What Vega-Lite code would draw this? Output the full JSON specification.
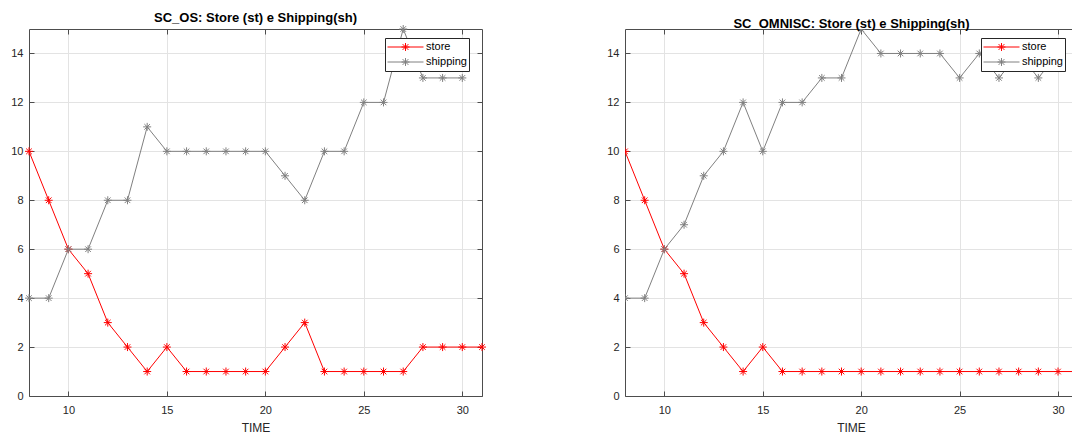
{
  "$schema": "https://vega.github.io/schema/vega-lite/v6.json",
  "background": "white",
  "padding": {"left": 10, "top": 12, "right": 0, "bottom": 0},
  "datasets": {
    "d": [
      {"panel": "OS", "time": 8, "series": "store", "value": 10},
      {"panel": "OS", "time": 9, "series": "store", "value": 8},
      {"panel": "OS", "time": 10, "series": "store", "value": 6},
      {"panel": "OS", "time": 11, "series": "store", "value": 5},
      {"panel": "OS", "time": 12, "series": "store", "value": 3},
      {"panel": "OS", "time": 13, "series": "store", "value": 2},
      {"panel": "OS", "time": 14, "series": "store", "value": 1},
      {"panel": "OS", "time": 15, "series": "store", "value": 2},
      {"panel": "OS", "time": 16, "series": "store", "value": 1},
      {"panel": "OS", "time": 17, "series": "store", "value": 1},
      {"panel": "OS", "time": 18, "series": "store", "value": 1},
      {"panel": "OS", "time": 19, "series": "store", "value": 1},
      {"panel": "OS", "time": 20, "series": "store", "value": 1},
      {"panel": "OS", "time": 21, "series": "store", "value": 2},
      {"panel": "OS", "time": 22, "series": "store", "value": 3},
      {"panel": "OS", "time": 23, "series": "store", "value": 1},
      {"panel": "OS", "time": 24, "series": "store", "value": 1},
      {"panel": "OS", "time": 25, "series": "store", "value": 1},
      {"panel": "OS", "time": 26, "series": "store", "value": 1},
      {"panel": "OS", "time": 27, "series": "store", "value": 1},
      {"panel": "OS", "time": 28, "series": "store", "value": 2},
      {"panel": "OS", "time": 29, "series": "store", "value": 2},
      {"panel": "OS", "time": 30, "series": "store", "value": 2},
      {"panel": "OS", "time": 31, "series": "store", "value": 2},
      {"panel": "OS", "time": 8, "series": "shipping", "value": 4},
      {"panel": "OS", "time": 9, "series": "shipping", "value": 4},
      {"panel": "OS", "time": 10, "series": "shipping", "value": 6},
      {"panel": "OS", "time": 11, "series": "shipping", "value": 6},
      {"panel": "OS", "time": 12, "series": "shipping", "value": 8},
      {"panel": "OS", "time": 13, "series": "shipping", "value": 8},
      {"panel": "OS", "time": 14, "series": "shipping", "value": 11},
      {"panel": "OS", "time": 15, "series": "shipping", "value": 10},
      {"panel": "OS", "time": 16, "series": "shipping", "value": 10},
      {"panel": "OS", "time": 17, "series": "shipping", "value": 10},
      {"panel": "OS", "time": 18, "series": "shipping", "value": 10},
      {"panel": "OS", "time": 19, "series": "shipping", "value": 10},
      {"panel": "OS", "time": 20, "series": "shipping", "value": 10},
      {"panel": "OS", "time": 21, "series": "shipping", "value": 9},
      {"panel": "OS", "time": 22, "series": "shipping", "value": 8},
      {"panel": "OS", "time": 23, "series": "shipping", "value": 10},
      {"panel": "OS", "time": 24, "series": "shipping", "value": 10},
      {"panel": "OS", "time": 25, "series": "shipping", "value": 12},
      {"panel": "OS", "time": 26, "series": "shipping", "value": 12},
      {"panel": "OS", "time": 27, "series": "shipping", "value": 15},
      {"panel": "OS", "time": 28, "series": "shipping", "value": 13},
      {"panel": "OS", "time": 29, "series": "shipping", "value": 13},
      {"panel": "OS", "time": 30, "series": "shipping", "value": 13},
      {"panel": "OMNISC", "time": 8, "series": "store", "value": 10},
      {"panel": "OMNISC", "time": 9, "series": "store", "value": 8},
      {"panel": "OMNISC", "time": 10, "series": "store", "value": 6},
      {"panel": "OMNISC", "time": 11, "series": "store", "value": 5},
      {"panel": "OMNISC", "time": 12, "series": "store", "value": 3},
      {"panel": "OMNISC", "time": 13, "series": "store", "value": 2},
      {"panel": "OMNISC", "time": 14, "series": "store", "value": 1},
      {"panel": "OMNISC", "time": 15, "series": "store", "value": 2},
      {"panel": "OMNISC", "time": 16, "series": "store", "value": 1},
      {"panel": "OMNISC", "time": 17, "series": "store", "value": 1},
      {"panel": "OMNISC", "time": 18, "series": "store", "value": 1},
      {"panel": "OMNISC", "time": 19, "series": "store", "value": 1},
      {"panel": "OMNISC", "time": 20, "series": "store", "value": 1},
      {"panel": "OMNISC", "time": 21, "series": "store", "value": 1},
      {"panel": "OMNISC", "time": 22, "series": "store", "value": 1},
      {"panel": "OMNISC", "time": 23, "series": "store", "value": 1},
      {"panel": "OMNISC", "time": 24, "series": "store", "value": 1},
      {"panel": "OMNISC", "time": 25, "series": "store", "value": 1},
      {"panel": "OMNISC", "time": 26, "series": "store", "value": 1},
      {"panel": "OMNISC", "time": 27, "series": "store", "value": 1},
      {"panel": "OMNISC", "time": 28, "series": "store", "value": 1},
      {"panel": "OMNISC", "time": 29, "series": "store", "value": 1},
      {"panel": "OMNISC", "time": 30, "series": "store", "value": 1},
      {"panel": "OMNISC", "time": 31, "series": "store", "value": 1},
      {"panel": "OMNISC", "time": 8, "series": "shipping", "value": 4},
      {"panel": "OMNISC", "time": 9, "series": "shipping", "value": 4},
      {"panel": "OMNISC", "time": 10, "series": "shipping", "value": 6},
      {"panel": "OMNISC", "time": 11, "series": "shipping", "value": 7},
      {"panel": "OMNISC", "time": 12, "series": "shipping", "value": 9},
      {"panel": "OMNISC", "time": 13, "series": "shipping", "value": 10},
      {"panel": "OMNISC", "time": 14, "series": "shipping", "value": 12},
      {"panel": "OMNISC", "time": 15, "series": "shipping", "value": 10},
      {"panel": "OMNISC", "time": 16, "series": "shipping", "value": 12},
      {"panel": "OMNISC", "time": 17, "series": "shipping", "value": 12},
      {"panel": "OMNISC", "time": 18, "series": "shipping", "value": 13},
      {"panel": "OMNISC", "time": 19, "series": "shipping", "value": 13},
      {"panel": "OMNISC", "time": 20, "series": "shipping", "value": 15},
      {"panel": "OMNISC", "time": 21, "series": "shipping", "value": 14},
      {"panel": "OMNISC", "time": 22, "series": "shipping", "value": 14},
      {"panel": "OMNISC", "time": 23, "series": "shipping", "value": 14},
      {"panel": "OMNISC", "time": 24, "series": "shipping", "value": 14},
      {"panel": "OMNISC", "time": 25, "series": "shipping", "value": 13},
      {"panel": "OMNISC", "time": 26, "series": "shipping", "value": 14},
      {"panel": "OMNISC", "time": 27, "series": "shipping", "value": 13},
      {"panel": "OMNISC", "time": 28, "series": "shipping", "value": 14},
      {"panel": "OMNISC", "time": 29, "series": "shipping", "value": 13},
      {"panel": "OMNISC", "time": 30, "series": "shipping", "value": 14}
    ]
  },
  "data": {"name": "d"},
  "spacing": 118,
  "resolve": {"scale": {"color": "independent"}, "legend": {"color": "independent"}},
  "hconcat": [
    {
      "width": 453,
      "height": 367,
      "title": {"text": "SC_OS: Store (st) e Shipping(sh)"},
      "transform": [{"filter": "datum.panel == 'OS'"}],
      "layer": [
        {
          "layer": [
            {
              "mark": {"type": "line", "strokeWidth": 1},
              "encoding": {
                "x": {"field": "time", "type": "quantitative", "title": "TIME", "scale": {"domain": [8, 31], "nice": false, "zero": false}, "axis": {"values": [10, 15, 20, 25, 30]}},
                "y": {"field": "value", "type": "quantitative", "title": null, "scale": {"domain": [0, 15], "nice": false}, "axis": {"values": [0, 2, 4, 6, 8, 10, 12, 14]}},
                "color": {"field": "series", "type": "nominal", "scale": {"domain": ["store", "shipping"], "range": ["#ff0000", "#808080"]}, "legend": {"orient": "none", "legendX": 356, "legendY": 9}}
              }
            },
            {
              "mark": {"type": "point", "shape": "M-1,0L1,0M0,-1L0,1M-0.7,-0.7L0.7,0.7M-0.7,0.7L0.7,-0.7", "filled": false, "size": 64, "strokeWidth": 1, "opacity": 1},
              "encoding": {
                "x": {"field": "time", "type": "quantitative"},
                "y": {"field": "value", "type": "quantitative"},
                "color": {"field": "series", "type": "nominal"}
              }
            }
          ]
        },
        {
          "mark": {"type": "line", "opacity": 0},
          "encoding": {
            "x": {"field": "time", "type": "quantitative", "scale": {"domain": [8, 31], "nice": false, "zero": false}, "axis": {"orient": "top", "values": [10, 15, 20, 25, 30], "labels": false, "title": null, "grid": false}},
            "y": {"field": "value", "type": "quantitative", "scale": {"domain": [0, 15], "nice": false}, "axis": {"orient": "right", "values": [0, 2, 4, 6, 8, 10, 12, 14], "labels": false, "title": null, "grid": false}}
          }
        }
      ],
      "resolve": {"scale": {"x": "independent", "y": "independent"}, "axis": {"x": "independent", "y": "independent"}}
    },
    {
      "width": 447,
      "height": 367,
      "title": {"text": "SC_OMNISC: Store (st) e Shipping(sh)", "dx": 3},
      "transform": [{"filter": "datum.panel == 'OMNISC'"}],
      "layer": [
        {
          "layer": [
            {
              "mark": {"type": "line", "strokeWidth": 1, "clip": true},
              "encoding": {
                "x": {"field": "time", "type": "quantitative", "title": "TIME", "scale": {"domain": [8, 30.71], "nice": false, "zero": false}, "axis": {"values": [10, 15, 20, 25, 30], "titleX": 226}},
                "y": {"field": "value", "type": "quantitative", "title": null, "scale": {"domain": [0, 15], "nice": false}, "axis": {"values": [0, 2, 4, 6, 8, 10, 12, 14]}},
                "color": {"field": "series", "type": "nominal", "scale": {"domain": ["store", "shipping"], "range": ["#ff0000", "#808080"]}, "legend": {"orient": "none", "legendX": 356, "legendY": 9}}
              }
            },
            {
              "mark": {"type": "point", "shape": "M-1,0L1,0M0,-1L0,1M-0.7,-0.7L0.7,0.7M-0.7,0.7L0.7,-0.7", "filled": false, "size": 64, "strokeWidth": 1, "opacity": 1, "clip": true},
              "encoding": {
                "x": {"field": "time", "type": "quantitative"},
                "y": {"field": "value", "type": "quantitative"},
                "color": {"field": "series", "type": "nominal"}
              }
            }
          ]
        },
        {
          "mark": {"type": "line", "opacity": 0},
          "encoding": {
            "x": {"field": "time", "type": "quantitative", "scale": {"domain": [8, 30.71], "nice": false, "zero": false}, "axis": {"orient": "top", "values": [10, 15, 20, 25, 30], "labels": false, "title": null, "grid": false}}
          }
        }
      ],
      "resolve": {"scale": {"x": "independent"}, "axis": {"x": "independent"}}
    }
  ],
  "config": {
    "font": "Liberation Sans",
    "view": {"stroke": null},
    "title": {"fontSize": 13, "fontWeight": "bold", "color": "#000000", "offset": -2, "font": "Liberation Sans"},
    "axis": {
      "domainColor": "#4d4d4d",
      "domainWidth": 1,
      "tickColor": "#4d4d4d",
      "tickSize": -5,
      "labelPadding": 11,
      "labelFontSize": 11,
      "labelColor": "#262626",
      "labelFont": "Liberation Sans",
      "gridColor": "#e3e3e3",
      "gridWidth": 1,
      "titleFontSize": 12,
      "titleFontWeight": "normal",
      "titleColor": "#262626",
      "titlePadding": 7
    },
    "axisX": {"labelPadding": 13},
    "legend": {
      "title": null,
      "strokeColor": "#262626",
      "fillColor": "white",
      "padding": 2,
      "cornerRadius": 0,
      "symbolType": "M-1,0L1,0M-0.22,0L0.22,0M0,-0.22L0,0.22M-0.16,-0.16L0.16,0.16M-0.16,0.16L0.16,-0.16",
      "symbolSize": 1296,
      "symbolStrokeWidth": 1,
      "symbolFillColor": "transparent",
      "symbolOffset": 0,
      "clipHeight": 14,
      "rowPadding": 1,
      "labelFontSize": 11,
      "labelColor": "#000000",
      "labelOffset": 2,
      "labelFont": "Liberation Sans"
    }
  }
}
